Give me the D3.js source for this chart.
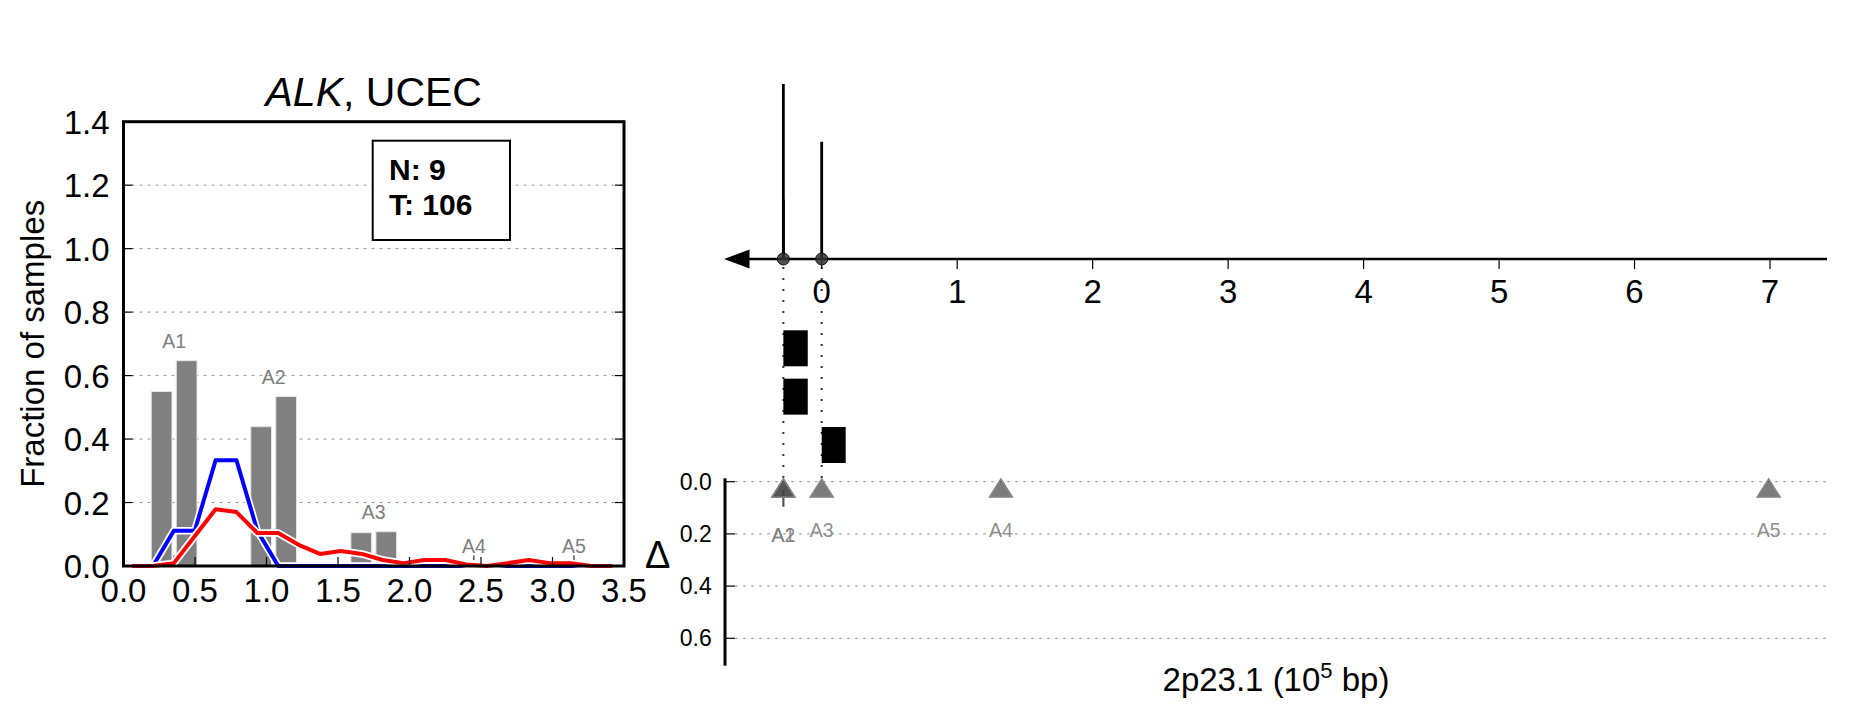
<!DOCTYPE html>
<html><head><meta charset="utf-8">
<script src="https://cdn.jsdelivr.net/npm/d3@7"></script>
<style>
body{margin:0;background:#fff;}
svg{display:block;font-family:"Liberation Sans",Arial,Helvetica,sans-serif;}
</style></head>
<body>
<svg id="chart" width="1851" height="718"></svg>
<script>
// ---------------- DATA ----------------
// Left panel: fraction of samples vs delta
const deltaGrid = [0.06,0.206,0.352,0.498,0.644,0.79,0.936,1.082,1.228,1.374,1.52,1.666,1.812,1.958,2.104,2.25,2.396,2.542,2.688,2.834,2.98,3.126,3.272,3.418];
const normalFrac = [0,0,0.111,0.111,0.333,0.333,0.111,0,0,0,0,0,0,0,0,0,0,0,0,0,0,0,0,0];
const tumorFrac  = [0,0,0.009,0.094,0.179,0.170,0.104,0.104,0.066,0.038,0.047,0.038,0.019,0.009,0.019,0.019,0.005,0,0.009,0.019,0.009,0.009,0,0];
const clusterNames = ["A1","A2","A3","A4","A5"];
const clusterDelta = [0.354,1.05,1.75,2.45,3.15];
const barNormal = [0.55,0.439,0.105,0,0];
const barTumor  = [0.647,0.534,0.108,0,0];
const leftYTicks = [0.0,0.2,0.4,0.6,0.8,1.0,1.2,1.4];
const leftXTicks = [0.0,0.5,1.0,1.5,2.0,2.5,3.0,3.5];
const countN = 9, countT = 106;

// Right panel: genomic positions (10^5 bp)
const clusterPos = [-0.283,-0.283,0.0,1.323,6.99];
const clusterShift = [0.032,0.032,0.032,0.032,0.032];
const stemPos = [-0.283,-0.283,0.0];
const stemHeight = [1.0,0.34,0.67];
const circlePos = [-0.283,0.0];
const segStart = [-0.283,-0.283,0.0];
const segEnd   = [-0.103,-0.103,0.177];
const segRow   = [0,1,2];
const posTicks = [0,1,2,3,4,5,6,7];
const shiftTicks = [0.0,0.2,0.4,0.6];

// ---------------- DRAW ----------------
const svg = d3.select("#chart");

// ===== Left panel =====
const xL = d3.scaleLinear().domain([0,3.5]).range([123.5,624]);
const yL = d3.scaleLinear().domain([0,1.4]).range([566,121.7]);
const gL = svg.append("g");

// gridlines
gL.selectAll(".gl").data(leftYTicks.filter(v=>v>0 && v<1.4)).enter().append("line")
  .attr("x1",xL(0)).attr("x2",xL(3.5)).attr("y1",d=>yL(d)).attr("y2",d=>yL(d))
  .attr("stroke","#999").attr("stroke-width",1).attr("stroke-dasharray","3,5");

// cluster marks
gL.selectAll(".cm").data(clusterDelta).enter().append("line")
  .attr("x1",d=>xL(d)).attr("x2",d=>xL(d)).attr("y1",yL(0.033)).attr("y2",yL(0.019))
  .attr("stroke","#222").attr("stroke-width",1.2);

// bars
const bw = 0.145, boff = 0.0875;
const barData = [];
clusterDelta.forEach((c,i)=>{
  if(barNormal[i]>0) barData.push({x0:c-boff-bw/2, v:barNormal[i]});
  if(barTumor[i]>0) barData.push({x0:c+boff-bw/2, v:barTumor[i]});
});
gL.selectAll(".bar").data(barData).enter().append("rect")
  .attr("x",d=>xL(d.x0)).attr("width",d=>xL(d.x0+bw)-xL(d.x0))
  .attr("y",d=>yL(d.v)).attr("height",d=>yL(0)-yL(d.v))
  .attr("fill","#808080").attr("stroke","#e6e6e6").attr("stroke-width",1);

// lines with white halo
const line = d3.line().x((d,i)=>xL(deltaGrid[i])).y(d=>yL(d));
[[normalFrac,"#0000ff"],[tumorFrac,"#ff0000"]].forEach(([arr,col])=>{
  gL.append("path").attr("d",line(arr)).attr("fill","none").attr("stroke","#fff")
    .attr("stroke-width",7.5).attr("stroke-linejoin","round");
  gL.append("path").attr("d",line(arr)).attr("fill","none").attr("stroke",col)
    .attr("stroke-width",4).attr("stroke-linejoin","round");
});

// cluster labels
gL.selectAll(".cl").data(clusterNames).enter().append("text")
  .attr("x",(d,i)=>xL(clusterDelta[i]))
  .attr("y",(d,i)=>yL(Math.max(barNormal[i],barTumor[i])+0.04))
  .attr("text-anchor","middle").attr("font-size",19.5).attr("fill","#808080").text(d=>d);

// frame
gL.append("rect").attr("x",xL(0)).attr("y",yL(1.4)).attr("width",xL(3.5)-xL(0)).attr("height",yL(0)-yL(1.4))
  .attr("fill","none").attr("stroke","#000").attr("stroke-width",3);

// ticks
const tl = 9;
leftYTicks.filter(v=>v>0 && v<1.4).forEach(v=>{
  gL.append("line").attr("x1",xL(0)).attr("x2",xL(0)+tl).attr("y1",yL(v)).attr("y2",yL(v)).attr("stroke","#000").attr("stroke-width",1.2);
  gL.append("line").attr("x1",xL(3.5)).attr("x2",xL(3.5)-tl).attr("y1",yL(v)).attr("y2",yL(v)).attr("stroke","#000").attr("stroke-width",1.2);
});
leftXTicks.filter(v=>v>0 && v<3.5).forEach(v=>{
  gL.append("line").attr("x1",xL(v)).attr("x2",xL(v)).attr("y1",yL(0)).attr("y2",yL(0)-tl).attr("stroke","#000").attr("stroke-width",1.2);
});
// tick labels
gL.selectAll(".yt").data(leftYTicks).enter().append("text")
  .attr("x",xL(0)-14).attr("y",d=>yL(d)+12).attr("text-anchor","end").attr("font-size",33)
  .text(d=>d.toFixed(1));
gL.selectAll(".xt").data(leftXTicks).enter().append("text")
  .attr("x",d=>xL(d)).attr("y",602).attr("text-anchor","middle").attr("font-size",33)
  .text(d=>d.toFixed(1));

// title
const title = gL.append("text").attr("x",(xL(0)+xL(3.5))/2).attr("y",106).attr("text-anchor","middle").attr("font-size",41);
title.append("tspan").attr("font-style","italic").text("ALK");
title.append("tspan").text(", UCEC");

// N/T box
gL.append("rect").attr("x",372.7).attr("y",140.7).attr("width",137.3).attr("height",99.3)
  .attr("fill","#fff").attr("stroke","#000").attr("stroke-width",2);
gL.append("text").attr("x",389).attr("y",180).attr("font-size",30).attr("font-weight","bold").text("N: "+countN);
gL.append("text").attr("x",389).attr("y",215).attr("font-size",30).attr("font-weight","bold").text("T: "+countT);

// y label
gL.append("text").attr("transform","translate(44,"+((yL(0)+yL(1.4))/2)+") rotate(-90)")
  .attr("text-anchor","middle").attr("font-size",33).text("Fraction of samples");
// x label (Delta)
gL.append("text").attr("x",645).attr("y",568).attr("font-size",38).text("\u0394");

// ===== Right panel =====
const xR = d3.scaleLinear().domain([0,7]).range([821.7,1770]);
const yS = d3.scaleLinear().domain([0,1]).range([259,84]);
const yRow = d3.scaleLinear().domain([0,2]).range([348.3,445]);
const yD = d3.scaleLinear().domain([0,0.6]).range([481.7,638.3]);
const gR = svg.append("g");
const axisY = yS(0);

// delta gridlines
gR.selectAll(".dg").data(shiftTicks).enter().append("line")
  .attr("x1",735).attr("x2",1827).attr("y1",d=>yD(d)).attr("y2",d=>yD(d))
  .attr("stroke","#999").attr("stroke-width",1).attr("stroke-dasharray","3,5");

// dotted verticals
gR.selectAll(".dv").data(circlePos).enter().append("line")
  .attr("x1",d=>xR(d)).attr("x2",d=>xR(d)).attr("y1",axisY+8).attr("y2",yD(0))
  .attr("stroke","#333").attr("stroke-width",2).attr("stroke-dasharray","2,9");

// segments
gR.selectAll(".seg").data(segStart).enter().append("rect")
  .attr("x",(d,i)=>xR(d)).attr("width",(d,i)=>xR(segEnd[i])-xR(d))
  .attr("y",(d,i)=>yRow(segRow[i])-18).attr("height",36).attr("fill","#000");

// main axis line + arrow
gR.append("line").attr("x1",745).attr("x2",1827).attr("y1",axisY).attr("y2",axisY).attr("stroke","#000").attr("stroke-width",2.5);
gR.append("path").attr("d",`M724,${axisY} L749.5,${axisY-9.5} L749.5,${axisY+9.5} Z`).attr("fill","#000");
gR.selectAll(".pt").data(posTicks).enter().append("line")
  .attr("x1",d=>xR(d)).attr("x2",d=>xR(d)).attr("y1",axisY).attr("y2",axisY+10).attr("stroke","#000").attr("stroke-width",1.2);
gR.selectAll(".ptl").data(posTicks).enter().append("text")
  .attr("x",d=>xR(d)).attr("y",303).attr("text-anchor","middle").attr("font-size",33).text(d=>d);

// stems
gR.selectAll(".stem").data(stemPos).enter().append("line")
  .attr("x1",d=>xR(d)).attr("x2",d=>xR(d)).attr("y1",axisY).attr("y2",(d,i)=>yS(stemHeight[i]))
  .attr("stroke","#000").attr("stroke-width",2.8);
gR.selectAll(".circ").data(circlePos).enter().append("circle")
  .attr("cx",d=>xR(d)).attr("cy",axisY).attr("r",6)
  .attr("fill","#333").attr("fill-opacity",0.85).attr("stroke","#111").attr("stroke-width",1);

// delta axis
gR.append("line").attr("x1",725).attr("x2",725).attr("y1",478.3).attr("y2",665.7).attr("stroke","#000").attr("stroke-width",3);
gR.selectAll(".dt").data(shiftTicks).enter().append("line")
  .attr("x1",725).attr("x2",735).attr("y1",d=>yD(d)).attr("y2",d=>yD(d)).attr("stroke","#000").attr("stroke-width",1.2);
gR.selectAll(".dtl").data(shiftTicks).enter().append("text")
  .attr("x",711.7).attr("y",d=>yD(d)+8).attr("text-anchor","end").attr("font-size",23).text(d=>d.toFixed(1));

// error mark under A1
gR.append("line").attr("x1",xR(clusterPos[0])).attr("x2",xR(clusterPos[0]))
  .attr("y1",yD(clusterShift[0])).attr("y2",yD(0.096)).attr("stroke","#555").attr("stroke-width",2.2);

// triangles
const tri = d3.symbol().type(d3.symbolTriangle).size(230);
gR.selectAll(".tri").data(clusterPos).enter().append("path")
  .attr("d",tri)
  .attr("transform",(d,i)=>`translate(${xR(d)},${yD(clusterShift[i])+1}) scale(1,0.92)`)
  .attr("fill","#444").attr("fill-opacity",0.7).attr("stroke","#888").attr("stroke-width",1.5);

// cluster labels
gR.selectAll(".rcl").data(clusterNames).enter().append("text")
  .attr("x",(d,i)=>xR(clusterPos[i])).attr("y",(d,i)=>i<2?541.5:536.7)
  .attr("text-anchor","middle").attr("font-size",19.5).attr("fill","#808080").attr("fill-opacity",0.9).text(d=>d);

// x label
const xl = gR.append("text").attr("x",(725+1827)/2).attr("y",691).attr("text-anchor","middle").attr("font-size",33);
xl.append("tspan").text("2p23.1 (10");
xl.append("tspan").attr("dy",-13).attr("font-size",22).text("5");
xl.append("tspan").attr("dy",13).text(" bp)");
</script>
</body></html>
